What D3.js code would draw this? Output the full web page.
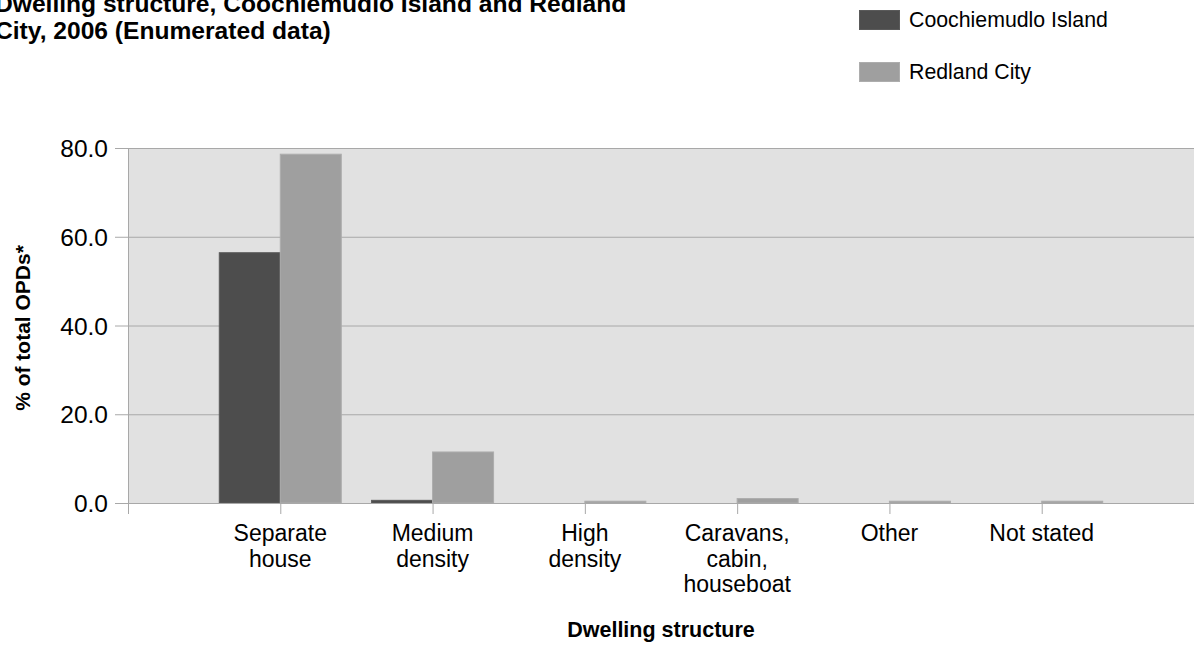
<!DOCTYPE html>
<html lang="en">
<head>
    <meta charset="UTF-8">
    <title>Dwelling structure</title>
    <script src="https://d3js.org/d3.v7.min.js"></script>
    <style>
        body { margin: 0; background: #fff; }
        text { font-family: "Liberation Sans", Arial, sans-serif; fill: #000; }
        .title { font-weight: bold; font-size: 24.6px; }
        .axis-title { font-weight: bold; font-size: 21.5px; }
        .tick-label { font-size: 24.5px; }
        .cat-label { font-size: 23px; }
        .legend-label { font-size: 21.3px; }
    </style>
</head>
<body>
<script>
    const categories = [
        ["Separate", "house"],
        ["Medium", "density"],
        ["High", "density"],
        ["Caravans,", "cabin,", "houseboat"],
        ["Other"],
        ["Not stated"]
    ];
    const seriesNames = ["Coochiemudlo Island", "Redland City"];
    const coochiemudlo = [56.4, 0.6, 0, 0, 0, 0];
    const redland = [78.6, 11.5, 0.4, 1.0, 0.4, 0.4];
    const yTicks = [0, 20, 40, 60, 80];

    const width = 1194, height = 646;
    const margin = { top: 148, right: 0, bottom: 143, left: 128 };
    const colors = ["#4d4d4d", "#9f9f9f"];
    const strokes = ["#5a5a5a", "#adadad"];

    const svg = d3.select("body").append("svg")
        .attr("width", width)
        .attr("height", height);

    const catKeys = categories.map(d => d.join(" "));

    const x = d3.scalePoint()
        .domain(catKeys)
        .range([margin.left, width - margin.right])
        .padding(1);

    const y = d3.scaleLinear()
        .domain([0, 80])
        .range([height - margin.bottom, margin.top]);

    const barW = 61;

    // plot background
    svg.append("rect")
        .attr("x", margin.left)
        .attr("y", y(80))
        .attr("width", width - margin.right - margin.left)
        .attr("height", y(0) - y(80))
        .attr("fill", "#e1e1e1");

    // gridlines
    svg.selectAll(".grid")
        .data(yTicks.filter(d => d > 0))
        .enter().append("line")
        .attr("x1", margin.left)
        .attr("x2", width)
        .attr("y1", d => y(d) + 0.5)
        .attr("y2", d => y(d) + 0.5)
        .attr("stroke", "#a8a8a8")
        .attr("stroke-width", 1);

    // bars
    const series = [coochiemudlo, redland];
    series.forEach((vals, si) => {
        svg.selectAll(".bar" + si)
            .data(vals)
            .enter().append("rect")
            .attr("x", (d, i) => x(catKeys[i]) + (si === 0 ? -barW : 0))
            .attr("y", d => y(d))
            .attr("width", barW)
            .attr("height", d => y(0) - y(d))
            .attr("fill", colors[si])
            .attr("stroke", d => d > 0 ? strokes[si] : "none")
            .attr("stroke-width", 1);
    });

    // y axis
    const yAxis = svg.append("g").attr("transform", `translate(${margin.left},0)`);
    yAxis.append("line")
        .attr("x1", 0.5).attr("x2", 0.5)
        .attr("y1", y(80)).attr("y2", y(0) + 11)
        .attr("stroke", "#a8a8a8");
    yAxis.selectAll(".ytick")
        .data(yTicks)
        .enter().append("line")
        .attr("x1", -13).attr("x2", 0)
        .attr("y1", d => y(d) + 0.5).attr("y2", d => y(d) + 0.5)
        .attr("stroke", "#a8a8a8");
    yAxis.selectAll(".ylab")
        .data(yTicks)
        .enter().append("text")
        .attr("class", "tick-label")
        .attr("x", -20)
        .attr("y", d => y(d) + 9)
        .attr("text-anchor", "end")
        .text(d => d.toFixed(1));

    // x axis
    svg.append("line")
        .attr("x1", margin.left).attr("x2", width)
        .attr("y1", y(0) + 0.5).attr("y2", y(0) + 0.5)
        .attr("stroke", "#a8a8a8");
    svg.selectAll(".xtick")
        .data(catKeys)
        .enter().append("line")
        .attr("x1", d => x(d) + 0.5).attr("x2", d => x(d) + 0.5)
        .attr("y1", y(0)).attr("y2", y(0) + 11)
        .attr("stroke", "#a8a8a8");
    const xl = svg.selectAll(".xlab")
        .data(categories)
        .enter().append("text")
        .attr("class", "cat-label")
        .attr("text-anchor", "middle")
        .attr("x", (d, i) => x(catKeys[i]))
        .attr("y", y(0) + 38);
    xl.selectAll("tspan")
        .data(d => d)
        .enter().append("tspan")
        .attr("x", function () { return d3.select(this.parentNode).attr("x"); })
        .attr("dy", (d, i) => i === 0 ? 0 : 25.5)
        .text(d => d);

    // axis titles
    svg.append("text")
        .attr("class", "axis-title")
        .attr("text-anchor", "middle")
        .attr("x", 661)
        .attr("y", 637)
        .text("Dwelling structure");

    svg.append("text")
        .attr("class", "axis-title")
        .attr("text-anchor", "middle")
        .attr("transform", "translate(30,328) rotate(-90)")
        .style("font-size", "21px")
        .text("% of total OPDs*");

    // title (cut off at the top-left edge, as in the original)
    const title = svg.append("text")
        .attr("class", "title")
        .attr("x", -5)
        .attr("y", 12);
    title.append("tspan").attr("x", -5).text("Dwelling structure, Coochiemudlo Island and Redland");
    title.append("tspan").attr("x", -5).attr("dy", 26.5).text("City, 2006 (Enumerated data)");

    // legend
    const legend = svg.append("g").attr("transform", "translate(859,10)");
    seriesNames.forEach((name, i) => {
        legend.append("rect")
            .attr("x", 0.5)
            .attr("y", i * 52 + 0.5)
            .attr("width", 40)
            .attr("height", 19)
            .attr("fill", colors[i])
            .attr("stroke", strokes[i]);
        legend.append("text")
            .attr("class", "legend-label")
            .attr("x", 50)
            .attr("y", i * 52 + 17)
            .text(name);
    });
</script>
</body>
</html>
